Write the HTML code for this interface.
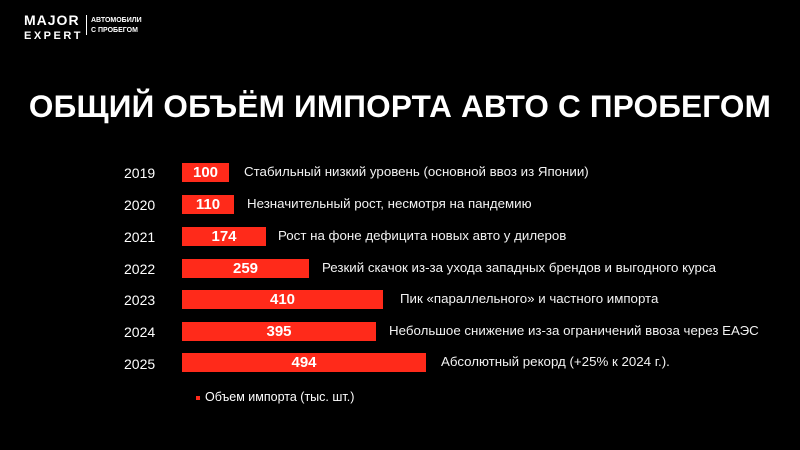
<!DOCTYPE html>
<html><head><meta charset="utf-8"><style>
body{margin:0;width:800px;height:450px;background:#000;overflow:hidden;font-family:"Liberation Sans",sans-serif;color:#fff;position:relative}
.a{position:absolute;white-space:nowrap}
.y{left:124px;font-size:14px;width:40px}
.bar{position:absolute;left:182px;height:19px;background:#ff2a1a;color:#fff;font-weight:bold;font-size:15px;text-align:center;line-height:19px}
.t{font-size:13.3px;color:#f2f2f2}
</style></head><body>
<div class="a" style="left:24px;top:13px;font-size:14px;font-weight:bold;letter-spacing:1px;line-height:14px">MAJOR<br><span style="font-size:11px;letter-spacing:2.5px">EXPERT</span></div>
<div class="a" style="left:86px;top:15px;width:1px;height:20px;background:#fff"></div>
<div class="a" style="left:91px;top:16px;font-size:7px;font-weight:bold;line-height:10px">АВТОМОБИЛИ<br>С ПРОБЕГОМ</div>
<div class="a" style="left:0;width:800px;text-align:center;top:88px;font-size:31.5px;font-weight:bold;letter-spacing:0.2px">ОБЩИЙ ОБЪЁМ ИМПОРТА АВТО С ПРОБЕГОМ</div>

<div class="a y" style="top:165px">2019</div><div class="bar" style="top:163px;width:47px">100</div><div class="a t" style="left:244px;top:164px">Стабильный низкий уровень (основной ввоз из Японии)</div>
<div class="a y" style="top:197px">2020</div><div class="bar" style="top:195px;width:52px">110</div><div class="a t" style="left:247px;top:196px">Незначительный рост, несмотря на пандемию</div>
<div class="a y" style="top:229px">2021</div><div class="bar" style="top:227px;width:84px">174</div><div class="a t" style="left:278px;top:228px">Рост на фоне дефицита новых авто у дилеров</div>
<div class="a y" style="top:261px">2022</div><div class="bar" style="top:259px;width:127px">259</div><div class="a t" style="left:322px;top:260px">Резкий скачок из-за ухода западных брендов и выгодного курса</div>
<div class="a y" style="top:292px">2023</div><div class="bar" style="top:290px;width:201px">410</div><div class="a t" style="left:400px;top:291px">Пик «параллельного» и частного импорта</div>
<div class="a y" style="top:324px">2024</div><div class="bar" style="top:322px;width:194px">395</div><div class="a t" style="left:389px;top:323px">Небольшое снижение из-за ограничений ввоза через ЕАЭС</div>
<div class="a y" style="top:356px">2025</div><div class="bar" style="top:353px;width:244px">494</div><div class="a t" style="left:441px;top:354px">Абсолютный рекорд (+25% к 2024 г.).</div>

<div class="a" style="left:196px;top:396px;width:4px;height:4px;background:#ff2a1a"></div>
<div class="a" style="left:205px;top:390px;font-size:12.5px">Объем импорта (тыс. шт.)</div>
</body></html>
